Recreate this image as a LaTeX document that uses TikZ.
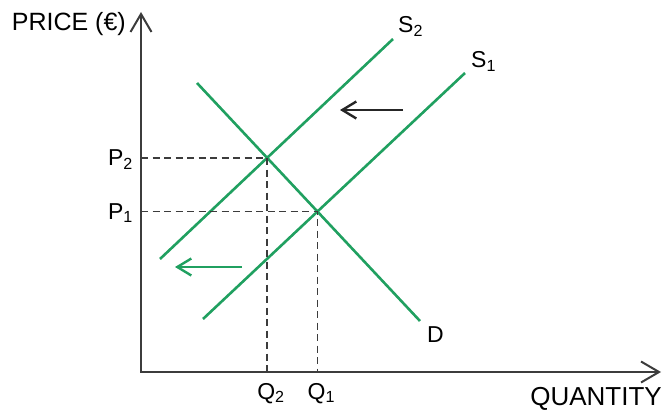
\documentclass[tikz,border=0pt]{standalone}
\usepackage{fontspec}
\setmainfont{Liberation Sans}
\usetikzlibrary{arrows.meta,positioning,calc,intersections}
\definecolor{curvegreen}{RGB}{32,160,96}
\definecolor{axisgray}{RGB}{60,60,60}

\begin{document}
\begin{tikzpicture}[x=1pt,y=-1pt,
    font=\fontsize{23}{26}\selectfont,
    axis/.style={axisgray,line width=2.2pt,line join=miter},
    curve/.style={curvegreen,line width=2.6pt},
    guide/.style={axisgray,line width=1.8pt,dash pattern=on 7pt off 4.5pt},
    shiftarrow/.style={line width=2.4pt,-{Straight Barb[length=14pt,width=17pt,line width=2.4pt]}},
    lbl/.style={inner sep=0pt},
    axislbl/.style={inner sep=0pt,font=\fontsize{25}{28}\selectfont}]
  \useasboundingbox (0,0) rectangle (664,412);
  % axes
  \coordinate (o) at (141,372);
  \coordinate (ytop) at (141,12);
  \coordinate (xend) at (661,372);
  \draw[axis,{Straight Barb[length=18pt,width=21pt,line width=2pt]}-{Straight Barb[length=18pt,width=21pt,line width=2pt]}]
    (ytop) -- (o) -- (xend);
  \node[axislbl,anchor=base east] (price) at (126,31) {PRICE (€)};
  \node[axislbl,anchor=base east,font=\fontsize{26}{28}\selectfont] (qty) at (662,405) {QUANTITY};
  % curves
  \coordinate (s2lo) at (160,259);
  \coordinate (s2hi) at (393,39);
  \coordinate (s1lo) at (203,319);
  \coordinate (s1hi) at (465,73);
  \coordinate (dhi) at (197,83);
  \coordinate (dlo) at (420,321);
  \draw[curve,name path=sup2] (s2lo) -- (s2hi);
  \draw[curve,name path=sup1] (s1lo) -- (s1hi);
  \draw[curve,name path=dem] (dhi) -- (dlo);
  \path[name intersections={of=dem and sup2,by=e2}];
  \path[name intersections={of=dem and sup1,by=e1}];
  \node[lbl,anchor=base west] (s2) at (398,33) {S\textsubscript{2}};
  \node[lbl,anchor=base west] (s1) at (471,68) {S\textsubscript{1}};
  \node[lbl,anchor=base west] (d) at (427,342) {D};
  % equilibria
  \draw[guide] (e2 -| o) -- (e2) -- (e2 |- o);
  \draw[guide] (e1 -| o) -- (e1) -- (e1 |- o);
  \node[lbl,anchor=base east] (p2) at ($(e2 -| o)+(-8,7.5)$) {P\textsubscript{2}};
  \node[lbl,anchor=base east] (p1) at ($(e1 -| o)+(-8,7.5)$) {P\textsubscript{1}};
  \node[lbl,anchor=base west] (q2) at ($(e2 |- o)+(-10,27)$) {Q\textsubscript{2}};
  \node[lbl,anchor=base west] (q1) at ($(e1 |- o)+(-10,27)$) {Q\textsubscript{1}};
  % shifts
  \coordinate (bt) at (403,110);
  \coordinate (bh) at (340,110);
  \coordinate (gt) at (242,267);
  \coordinate (gh) at (175,267);
  \draw[shiftarrow,black!85] (bt) -- (bh);
  \draw[shiftarrow,curvegreen] (gt) -- (gh);
\end{tikzpicture}
\end{document}
